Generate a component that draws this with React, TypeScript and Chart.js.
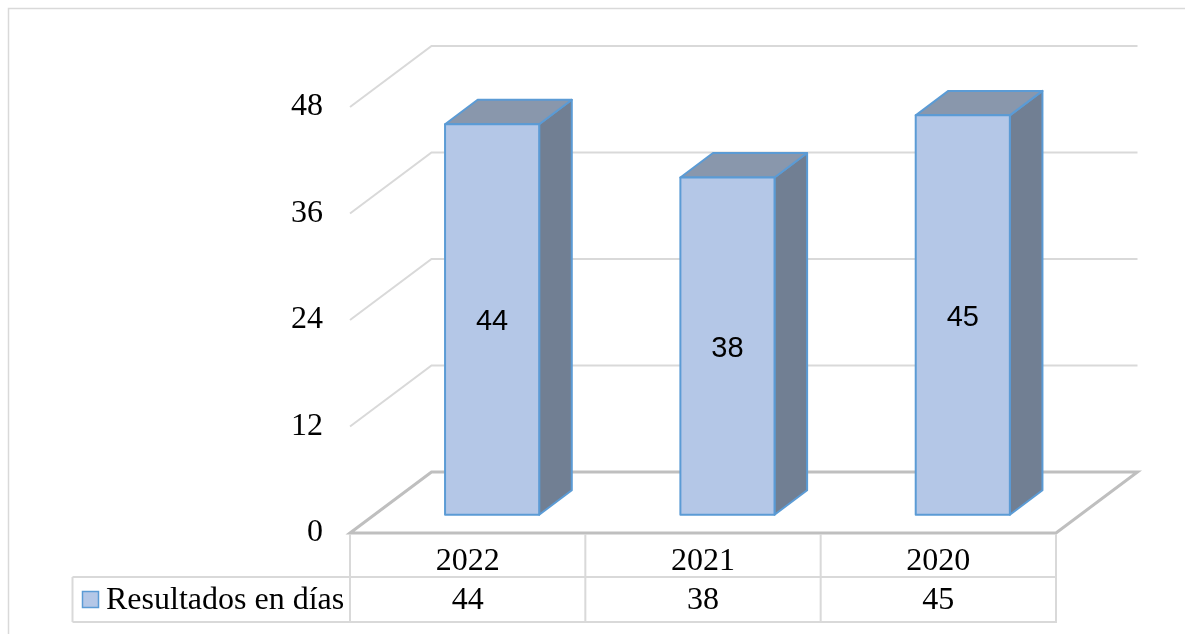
import React, { useEffect, useRef } from 'react';
import { Chart, registerables } from 'chart.js';

Chart.register(...registerables);

// ---- Data ----
const categories: string[] = ['2022', '2021', '2020'];
const values: number[] = [44, 38, 45];
const seriesName = 'Resultados en días';
const yMin = 0;
const yMax = 48;
const yStep = 12;

// ---- Styling / geometry ----
const DX = 81.5; // depth offset x
const DY = -61; // depth offset y
const BAR_FRONT = 0.3;
const BAR_BACK = 0.7;
const FRONT_COLOR = '#b4c7e7';
const SIDE_COLOR = '#717f93';
const TOP_COLOR = '#8997ac';
const EDGE_COLOR = '#5b9bd5';
const GRID_COLOR = '#d9d9d9';
const FLOOR_COLOR = '#bfbfbf';
const SERIF = "'Liberation Serif', 'Times New Roman', serif";
const SANS = "'Liberation Sans', Arial, sans-serif";
const ROW1_H = 44;
const ROW2_H = 45;
const LEGEND_LEFT = 72.5;

const poly = (ctx: CanvasRenderingContext2D, pts: number[][], fill: string) => {
  ctx.beginPath();
  ctx.moveTo(pts[0][0], pts[0][1]);
  for (let i = 1; i < pts.length; i++) ctx.lineTo(pts[i][0], pts[i][1]);
  ctx.closePath();
  ctx.fillStyle = fill;
  ctx.fill();
  ctx.strokeStyle = EDGE_COLOR;
  ctx.lineWidth = 2;
  ctx.lineJoin = 'round';
  ctx.stroke();
};

const threeDPlugin = {
  id: 'threeD',
  beforeDraw(chart: any) {
    const ctx: CanvasRenderingContext2D = chart.ctx;
    ctx.save();
    ctx.fillStyle = '#ffffff';
    ctx.fillRect(0, 0, chart.width, chart.height);
    ctx.strokeStyle = GRID_COLOR;
    ctx.lineWidth = 1.5;
    ctx.strokeRect(8.5, 8.5, chart.width + 50, chart.height + 50);
    ctx.restore();
  },
  beforeDatasetsDraw(chart: any) {
    const ctx: CanvasRenderingContext2D = chart.ctx;
    const { left, right } = chart.chartArea;
    const y = chart.scales.y;
    ctx.save();
    // walls gridlines
    y.ticks.forEach((t: any) => {
      if (t.value === yMin) return;
      const py = y.getPixelForValue(t.value);
      ctx.beginPath();
      ctx.moveTo(left, py);
      ctx.lineTo(left + DX, py + DY);
      ctx.lineTo(right + DX, py + DY);
      ctx.strokeStyle = GRID_COLOR;
      ctx.lineWidth = 2;
      ctx.stroke();
    });
    // floor
    const y0 = y.getPixelForValue(yMin);
    ctx.beginPath();
    ctx.moveTo(left, y0);
    ctx.lineTo(left + DX, y0 + DY);
    ctx.lineTo(right + DX, y0 + DY);
    ctx.lineTo(right, y0);
    ctx.closePath();
    ctx.strokeStyle = FLOOR_COLOR;
    ctx.lineWidth = 3;
    ctx.lineJoin = 'miter';
    ctx.stroke();

    // bars
    const meta = chart.getDatasetMeta(0);
    const ddx = (BAR_BACK - BAR_FRONT) * DX;
    const ddy = (BAR_BACK - BAR_FRONT) * DY;
    meta.data.forEach((bar: any, i: number) => {
      const p = bar.getProps(['x', 'y', 'base', 'width'], true);
      const x1 = p.x - p.width / 2 + BAR_FRONT * DX;
      const x2 = p.x + p.width / 2 + BAR_FRONT * DX;
      const yt = p.y + BAR_FRONT * DY;
      const yb = p.base + BAR_FRONT * DY;
      poly(ctx, [[x2, yt], [x2 + ddx, yt + ddy], [x2 + ddx, yb + ddy], [x2, yb]], SIDE_COLOR);
      poly(ctx, [[x1, yt], [x1 + ddx, yt + ddy], [x2 + ddx, yt + ddy], [x2, yt]], TOP_COLOR);
      poly(ctx, [[x1, yt], [x2, yt], [x2, yb], [x1, yb]], FRONT_COLOR);
      ctx.fillStyle = '#000';
      ctx.font = `29px ${SANS}`;
      ctx.textAlign = 'center';
      ctx.textBaseline = 'middle';
      ctx.fillText(String(values[i]), (x1 + x2) / 2, (yt + yb) / 2 + 3);
    });
    ctx.restore();
  },
  afterDraw(chart: any) {
    const ctx: CanvasRenderingContext2D = chart.ctx;
    const { left, right, bottom } = chart.chartArea;
    const xs = chart.scales.x;
    const n = categories.length;
    const cw = (right - left) / n;
    const r1 = bottom + ROW1_H;
    const r2 = r1 + ROW2_H;
    ctx.save();
    ctx.strokeStyle = GRID_COLOR;
    ctx.lineWidth = 2;
    ctx.beginPath();
    for (let i = 0; i <= n; i++) {
      const bx = left + i * cw;
      ctx.moveTo(bx, bottom + 1);
      ctx.lineTo(bx, r2);
    }
    ctx.moveTo(LEGEND_LEFT, r1);
    ctx.lineTo(right, r1);
    ctx.moveTo(LEGEND_LEFT, r2);
    ctx.lineTo(right + 1, r2);
    ctx.moveTo(LEGEND_LEFT, r1);
    ctx.lineTo(LEGEND_LEFT, r2);
    ctx.stroke();

    ctx.fillStyle = '#000';
    ctx.font = `32px ${SERIF}`;
    ctx.textAlign = 'center';
    ctx.textBaseline = 'middle';
    categories.forEach((c, i) => {
      const cx = xs.getPixelForValue(i);
      ctx.fillText(c, cx, (bottom + r1) / 2 + 7);
      ctx.fillText(String(values[i]), cx, (r1 + r2) / 2 + 1);
    });
    // legend key
    const ky = (r1 + r2) / 2;
    ctx.fillStyle = FRONT_COLOR;
    ctx.fillRect(82.5, ky - 8, 16, 16);
    ctx.strokeStyle = EDGE_COLOR;
    ctx.lineWidth = 1.5;
    ctx.strokeRect(82.5, ky - 8, 16, 16);
    ctx.fillStyle = '#000';
    ctx.textAlign = 'left';
    ctx.fillText(seriesName, 106, ky + 1);
    ctx.restore();
  },
};

export default function App() {
  const ref = useRef<HTMLCanvasElement>(null);
  useEffect(() => {
    document.body.style.margin = '0';
    const chart = new Chart(ref.current as HTMLCanvasElement, {
      type: 'bar',
      data: {
        labels: categories,
        datasets: [
          {
            label: seriesName,
            data: values,
            backgroundColor: 'rgba(0,0,0,0)',
            borderWidth: 0,
            barPercentage: 0.4,
            categoryPercentage: 1,
          },
        ],
      },
      options: {
        animation: false,
        responsive: false,
        devicePixelRatio: 1,
        layout: { padding: { top: 107, right: 129, bottom: 101, left: 0 } },
        plugins: { legend: { display: false }, tooltip: { enabled: false } },
        scales: {
          x: { display: false },
          y: {
            min: yMin,
            max: yMax,
            ticks: {
              stepSize: yStep,
              color: '#000',
              font: { family: SERIF, size: 32 },
              padding: 27,
            },
            grid: { display: false, drawTicks: false },
            border: { display: false },
            afterFit: (scale: any) => {
              scale.width = 350;
            },
          },
        },
      },
      plugins: [threeDPlugin],
    });
    return () => chart.destroy();
  }, []);
  return (
    <canvas
      ref={ref}
      width={1185}
      height={634}
      style={{ display: 'block', width: 1185, height: 634 }}
    />
  );
}
